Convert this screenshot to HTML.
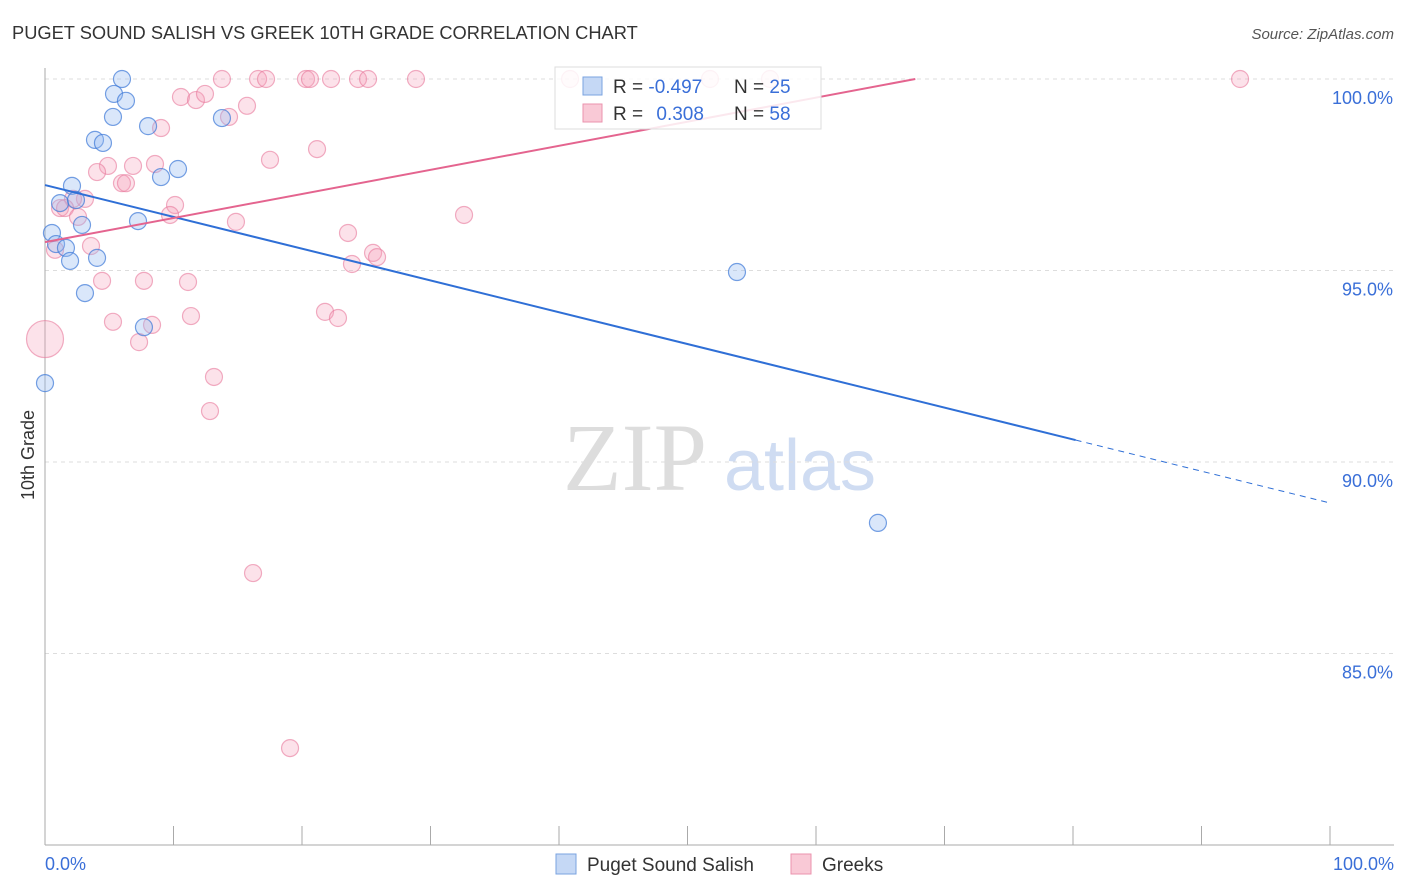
<!DOCTYPE html>
<html><head><meta charset="utf-8"><style>
body{margin:0;background:#fff;font-family:"Liberation Sans",sans-serif}
svg{display:block}
</style></head><body>
<svg id="c" width="1406" height="892" xmlns="http://www.w3.org/2000/svg">
<text x="12" y="39" font-size="18.3" fill="#333">PUGET SOUND SALISH VS GREEK 10TH GRADE CORRELATION CHART</text>
<text x="1394" y="39" font-size="15" fill="#555" font-style="italic" text-anchor="end">Source: ZipAtlas.com</text>
<text x="34" y="455" font-size="18" fill="#333" text-anchor="middle" transform="rotate(-90 34 455)">10th Grade</text>
<g><text x="635" y="490" font-size="96" fill="#ddd" font-family="Liberation Serif" text-anchor="middle">ZIP</text><text x="800" y="490" font-size="72" fill="#cfdcf2" text-anchor="middle">atlas</text></g>
<g id="grid"></g><g id="axes"></g><g id="pts"></g><g id="lines"></g>
<g>
<rect x="555" y="67" width="266" height="62" fill="#fff" fill-opacity="0.85" stroke="#ddd"/>
<rect x="583" y="77" width="19" height="18" fill="#c5d8f5" stroke="#7aa3e0"/>
<rect x="583" y="104" width="19" height="18" fill="#f9c9d6" stroke="#eb93ae"/>
<text x="613" y="93" font-size="19" fill="#333">R = <tspan fill="#3a6fd8">-0.497</tspan></text>
<text x="734" y="93" font-size="19" fill="#333">N = <tspan fill="#3a6fd8">25</tspan></text>
<text x="613" y="120" font-size="19" fill="#333">R = <tspan fill="#3a6fd8" dx="8">0.308</tspan></text>
<text x="734" y="120" font-size="19" fill="#333">N = <tspan fill="#3a6fd8">58</tspan></text>
</g>
<g>
<rect x="556" y="854" width="20" height="20" fill="#c5d8f5" stroke="#7aa3e0"/>
<text x="587" y="871" font-size="19" fill="#333">Puget Sound Salish</text>
<rect x="791" y="854" width="20" height="20" fill="#f9c9d6" stroke="#eb93ae"/>
<text x="822" y="871" font-size="19" fill="#333">Greeks</text>
</g>
</svg>
<script>
const yTicks=[100,95,90,85];
const yTickLabels=["100.0%","95.0%","90.0%","85.0%"];
const xEndLabels=["0.0%","100.0%"];
const blueX=[5.99,5.37,6.30,5.29,8.02,13.77,3.89,4.51,10.35,9.03,2.10,1.17,2.41,7.24,2.88,0.54,0.86,1.63,1.95,4.05,3.11,7.70,0.0,53.85,64.82];
const blueY=[100,99.61,99.43,99.01,98.77,98.98,98.41,98.33,97.65,97.44,97.21,96.76,96.84,96.29,96.19,95.98,95.69,95.59,95.25,95.33,94.41,93.52,92.06,94.96,88.41];
const pinkX=[13.77,16.58,17.20,20.31,20.62,22.26,24.36,25.14,28.87,40.86,51.75,56.42,93.00,10.58,11.75,12.45,15.72,14.32,9.03,21.17,17.51,4.90,6.85,8.56,4.05,5.99,6.30,3.11,2.18,1.17,1.56,2.57,10.12,9.73,14.86,32.61,23.58,25.53,25.84,23.89,0.78,3.58,4.44,7.70,11.13,21.79,22.80,5.29,8.33,11.36,7.32,13.15,12.84,16.19,19.07,0.0];
const pinkY=[100,100,100,100,100,100,100,100,100,100,100,100,100,99.53,99.45,99.61,99.30,99.01,98.72,98.17,97.89,97.73,97.73,97.78,97.57,97.28,97.28,96.87,96.87,96.63,96.63,96.40,96.71,96.45,96.27,96.45,95.98,95.46,95.35,95.17,95.54,95.64,94.73,94.73,94.70,93.92,93.76,93.66,93.58,93.81,93.13,92.22,91.33,87.10,82.53,93.21];
const pinkR=[8,8,8,8,8,8,8,8,8,8,8,8,8,8,8,8,8,8,8,8,8,8,8,8,8,8,8,8,8,8,8,8,8,8,8,8,8,8,8,8,8,8,8,8,8,8,8,8,8,8,8,8,8,8,8,18];
const blueTrend=[97.23,-0.083];
const pinkTrend=[95.74,0.0629];
const blueSolidEnd=80.2;
const X=v=>45+v*12.85, Y=v=>79+(100-v)*38.3;
const NS="http://www.w3.org/2000/svg";
function mk(t,a,p){const e=document.createElementNS(NS,t);for(const k in a)e.setAttribute(k,a[k]);p.appendChild(e);return e;}
const grid=document.getElementById('grid'),axes=document.getElementById('axes'),pts=document.getElementById('pts'),lines=document.getElementById('lines');
yTicks.forEach((t,i)=>{
 const l=mk('line',{x1:45,x2:1394,y1:Y(t),y2:Y(t),stroke:'#ddd','stroke-dasharray':'4 4'},grid);
 
 
 const tx=mk('text',{x:1393,y:Y(t)+25,'font-size':18,fill:'#3a6fd8','text-anchor':'end'},axes);
 tx.textContent=yTickLabels[i];
 
 
});
const ax=mk('line',{x1:45,x2:45,y1:68,y2:845,stroke:'#aaa'},axes);


const bx=mk('line',{x1:45,x2:1394,y1:845,y2:845,stroke:'#aaa'},axes);


for(let i=0;i<=10;i++){const t=mk('line',{x1:X(i*10),x2:X(i*10),y1:826,y2:845,stroke:'#aaa'},axes);
 
 }
[[0,'start',45],[100,'end',1394]].forEach((d,i)=>{const t=mk('text',{x:d[2],y:870,'font-size':18,fill:'#3a6fd8','text-anchor':d[1]},axes);t.textContent=xEndLabels[i];
 
 });
pinkX.forEach((x,i)=>{const c=mk('circle',{cx:X(x),cy:Y(pinkY[i]),r:pinkR[i]+0.5,fill:'rgba(245,160,185,0.3)',stroke:'rgba(232,120,155,0.6)','stroke-width':1.2},pts);
 
 });
blueX.forEach((x,i)=>{const c=mk('circle',{cx:X(x),cy:Y(blueY[i]),r:8.5,fill:'rgba(150,185,240,0.35)',stroke:'rgba(60,120,215,0.7)','stroke-width':1.2},pts);
 
 });
const bf=x=>blueTrend[0]+blueTrend[1]*x;
let l1=mk('line',{x1:X(0),y1:Y(bf(0)),x2:X(blueSolidEnd),y2:Y(bf(blueSolidEnd)),stroke:'#2f6fd6','stroke-width':2},lines);


let l2=mk('line',{x1:X(blueSolidEnd),y1:Y(bf(blueSolidEnd)),x2:X(100),y2:Y(bf(100)),stroke:'#2f6fd6','stroke-width':1,'stroke-dasharray':'6 5'},lines);


const pEnd=(100-pinkTrend[0])/pinkTrend[1];
let l3=mk('line',{x1:X(0),y1:Y(pinkTrend[0]),x2:X(pEnd),y2:Y(100),stroke:'#e4648f','stroke-width':2},lines);


</script>
</body></html>
